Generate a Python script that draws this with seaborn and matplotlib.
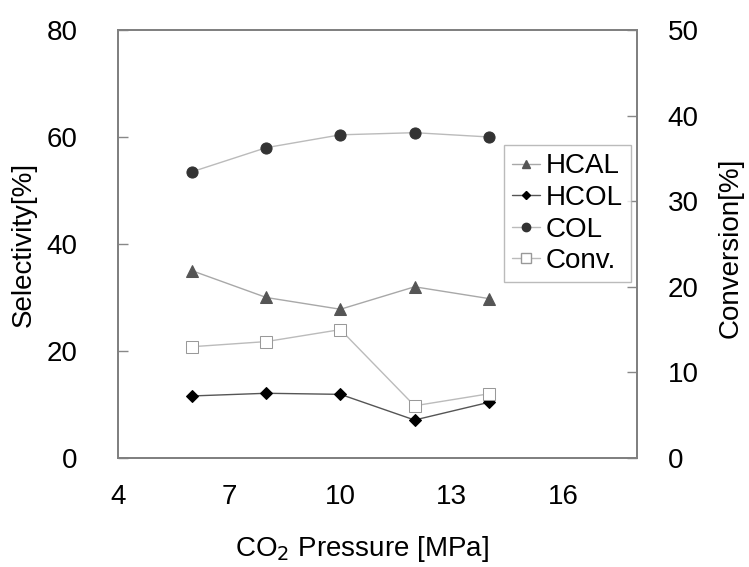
import numpy as np
import pandas as pd
import matplotlib
matplotlib.use("Agg")
import matplotlib.pyplot as plt
import seaborn as sns
from matplotlib.lines import Line2D

# data
pressure = [6, 8, 10, 12, 14]
hcal = [35.0, 30.0, 27.8, 32.0, 29.8]
hcol = [11.6, 12.1, 11.9, 7.1, 10.4]
col = [53.5, 58.0, 60.4, 60.8, 60.0]
conv = [13.0, 13.6, 15.0, 6.1, 7.5]

sns.set_theme(style="white")
plt.rcParams['font.family'] = ['Liberation Sans', 'DejaVu Sans']
plt.rcParams['text.color'] = 'black'
plt.rcParams['axes.labelcolor'] = 'black'
plt.rcParams['xtick.color'] = 'black'
plt.rcParams['ytick.color'] = 'black'

fig = plt.figure(figsize=(7.49, 5.67), dpi=100)
ax = fig.add_axes([0.1575, 0.1922, 0.693, 0.755])
ax2 = ax.twinx()

df = pd.DataFrame({"p": pressure, "HCAL": hcal, "HCOL": hcol, "COL": col, "Conv.": conv})

sns.lineplot(data=df, x="p", y="HCAL", ax=ax, color="#a8a8a8", lw=1.0,
             marker="^", markersize=8, markerfacecolor="#555555", markeredgecolor="#555555")
sns.lineplot(data=df, x="p", y="HCOL", ax=ax, color="#555555", lw=1.0,
             marker="D", markersize=6, markerfacecolor="black", markeredgecolor="black")
sns.lineplot(data=df, x="p", y="COL", ax=ax, color="#bbbbbb", lw=1.0,
             marker="o", markersize=8, markerfacecolor="#333333", markeredgecolor="#333333")
sns.lineplot(data=df, x="p", y="Conv.", ax=ax2, color="#bbbbbb", lw=1.0,
             marker="s", markersize=9, markerfacecolor="white", markeredgecolor="#999999")

ax.set_xlim(4, 18)
ax.set_ylim(0, 80)
ax2.set_ylim(0, 50)
ax.set_xticks([4, 7, 10, 13, 16])
ax.set_yticks([0, 20, 40, 60, 80])
ax2.set_yticks([0, 10, 20, 30, 40, 50])

ax.set_xlabel("CO$_2$ Pressure [MPa]", fontsize=20)
ax.set_ylabel("Selectivity[%]", fontsize=20)
ax2.set_ylabel("Conversion[%]", fontsize=20)
ax.xaxis.set_label_coords(0.47, -0.178)
ax.yaxis.set_label_coords(-0.156, 0.5)
ax2.yaxis.set_label_coords(1.156, 0.49)

for a in (ax, ax2):
    a.tick_params(direction="in", length=7, width=1.0, color="#888888",
                  labelsize=20)
    for s in a.spines.values():
        s.set_color("#808080")
        s.set_linewidth(1.3)
ax.tick_params(axis="x", pad=19)
ax.tick_params(axis="y", pad=29)
ax2.tick_params(axis="y", pad=22)

handles = [
    Line2D([], [], color="#a8a8a8", lw=1.0, marker="^", markersize=6,
           markerfacecolor="#555555", markeredgecolor="#555555"),
    Line2D([], [], color="#555555", lw=1.0, marker="D", markersize=4.5,
           markerfacecolor="black", markeredgecolor="black"),
    Line2D([], [], color="#bbbbbb", lw=1.0, marker="o", markersize=6,
           markerfacecolor="#333333", markeredgecolor="#333333"),
    Line2D([], [], color="#bbbbbb", lw=1.0, marker="s", markersize=6.5,
           markerfacecolor="white", markeredgecolor="#999999"),
]
leg = ax2.legend(handles, ["HCAL", "HCOL", "COL", "Conv."], loc="upper left",
                 bbox_to_anchor=(0.744, 0.731), fontsize=20, frameon=True,
                 fancybox=False, handlelength=1.0, handletextpad=0.2,
                 borderpad=0.3, labelspacing=0.2, borderaxespad=0)
leg.get_frame().set_edgecolor("#aaaaaa")
leg.get_frame().set_linewidth(1.0)

fig.savefig("out.png", dpi=100)
